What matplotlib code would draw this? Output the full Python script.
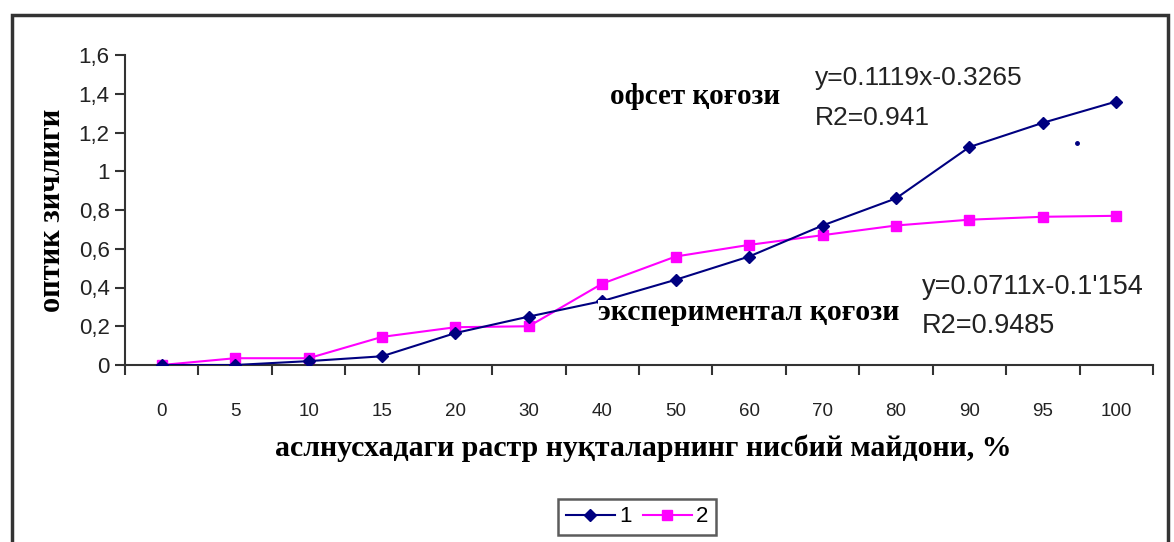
import matplotlib
matplotlib.use("Agg")
import matplotlib.pyplot as plt
from matplotlib.patches import Rectangle
from matplotlib.lines import Line2D

categories = ["0", "5", "10", "15", "20", "30", "40", "50", "60", "70", "80", "90", "95", "100"]
series1 = [0.0, 0.0, 0.02, 0.045, 0.165, 0.25, 0.33, 0.44, 0.56, 0.72, 0.86, 1.125, 1.25, 1.36]
series2 = [0.0, 0.035, 0.035, 0.145, 0.195, 0.20, 0.42, 0.56, 0.62, 0.67, 0.72, 0.75, 0.765, 0.77]
series_names = ["1", "2"]
yticks = [0, 0.2, 0.4, 0.6, 0.8, 1.0, 1.2, 1.4, 1.6]
ytick_labels = ["0", "0,2", "0,4", "0,6", "0,8", "1", "1,2", "1,4", "1,6"]

navy = "#000080"
magenta = "#FF00FF"
serif = ["Liberation Serif", "DejaVu Serif"]
sans = ["Liberation Sans", "DejaVu Sans"]

fig = plt.figure(figsize=(11.74, 5.42), dpi=100)
W, H = 1174, 542
ax = fig.add_axes([125 / W, 1 - 365 / H, 1028 / W, (365 - 55) / H])

x = list(range(len(categories)))
ax.plot(x, series1, color=navy, marker="D", markersize=6, lw=1.5, label=series_names[0], zorder=3)
ax.plot(x, series2, color=magenta, marker="s", markersize=7, lw=1.5, label=series_names[1], zorder=2)

ax.set_xlim(-0.5, len(categories) - 0.5)
ax.set_ylim(0, 1.6)
ax.set_yticks(yticks)
ax.set_yticklabels(ytick_labels, fontfamily=sans, fontsize=16, color="#222222")
ax.set_xticks([i + 0.5 for i in range(-1, len(categories))], minor=False)
ax.set_xticklabels([])
ax.set_xticks(x, minor=True)
ax.set_xticklabels(categories, minor=True, fontfamily=sans, fontsize=13.5, color="#222222")
ax.tick_params(axis="x", which="minor", length=0, pad=27)
ax.tick_params(axis="x", which="major", direction="out", length=7, width=1.5, color="#333333")
ax.tick_params(axis="y", direction="out", length=7, width=1.5, color="#333333", pad=4)
for s in ["top", "right"]:
    ax.spines[s].set_visible(False)
for s in ["left", "bottom"]:
    ax.spines[s].set_linewidth(1.5)
    ax.spines[s].set_color("#333333")

ax.set_ylabel("оптик зичлиги", fontfamily=serif, fontweight="bold", fontsize=22)
ax.yaxis.set_label_coords(-(125 - 53) / 1028, (365 - 210) / 310)
ax.set_xlabel("аслнусхадаги растр нуқталарнинг нисбий майдони, %", fontfamily=serif,
              fontweight="bold", fontsize=21.5)
ax.xaxis.set_label_coords((643 - 125) / 1028, -(448 - 365) / 310)
ax.xaxis.label.set_va("center")
ax.yaxis.label.set_va("center")

def fx(px):
    return px / W

def fy(py):
    return 1 - py / H

fig.text(fx(610), fy(97), "офсет қоғози", fontfamily=serif, fontweight="bold", fontsize=21, va="center")
fig.text(fx(815), fy(78), "y=0.1119x-0.3265", fontfamily=sans, fontsize=19, va="center", color="#222222")
fig.text(fx(815), fy(118), "R2=0.941", fontfamily=sans, fontsize=19, va="center", color="#222222")
fig.text(fx(598), fy(313), "экспериментал қоғози", fontfamily=serif, fontweight="bold", fontsize=21.5,
         va="center", bbox=dict(facecolor="white", edgecolor="none", pad=0))
fig.text(fx(922), fy(287), "y=0.0711x-0.1'154", fontfamily=sans, fontsize=19.5, va="center", color="#222222")
fig.text(fx(922), fy(326), "R2=0.9485", fontfamily=sans, fontsize=19.5, va="center", color="#222222")
fig.lines.append(Line2D([fx(1077)], [fy(143)], marker="o", markersize=2.5, color=navy,
                        transform=fig.transFigure))

handles = [Line2D([], [], color=navy, marker="D", markersize=6, lw=1.5),
           Line2D([], [], color=magenta, marker="s", markersize=7, lw=1.5)]
leg = fig.legend(handles, series_names, loc="center", bbox_to_anchor=(fx(637), fy(517)),
                 ncol=2, frameon=True, fancybox=False, edgecolor="#333333",
                 handlelength=2.2, handletextpad=0.2, columnspacing=0.5, borderpad=0.35,
                 prop={"family": sans, "size": 16})
leg.get_frame().set_linewidth(1.8)

fig.patches.append(Rectangle((fx(12), fy(560)), fx(1168 - 12), (560 - 15) / H,
                             transform=fig.transFigure, fill=False, edgecolor="#333333",
                             linewidth=2.5, clip_on=False))

fig.savefig("out.png", dpi=100)
